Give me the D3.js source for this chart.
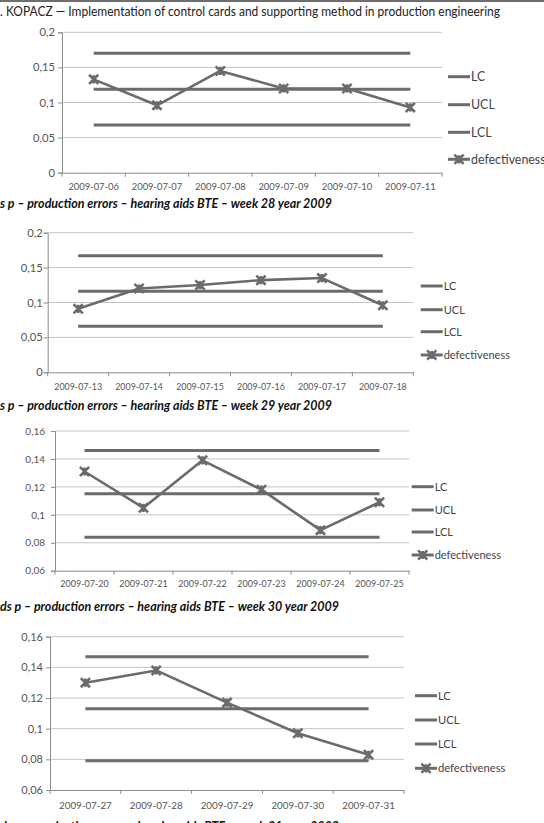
<!DOCTYPE html>
<html>
<head>
<meta charset="utf-8">
<script src="https://cdn.jsdelivr.net/npm/d3@7"></script>
<style>
html,body{margin:0;padding:0;background:#fff;}
svg{display:block;}
</style>
</head>
<body>
<svg id="c" width="544" height="823"></svg>
<script>
// ---------- DATA ----------
const headerText = ". KOPACZ — Implementation of control cards and supporting method in production engineering";
const seriesNames = ["LC", "UCL", "LCL", "defectiveness"];

const dates28 = ["2009-07-06","2009-07-07","2009-07-08","2009-07-09","2009-07-10","2009-07-11"];
const p28 = [0.133, 0.096, 0.145, 0.120, 0.120, 0.093];
const limits28 = {lc: 0.119, ucl: 0.170, lcl: 0.068};
const yTicks28 = [0, 0.05, 0.1, 0.15, 0.2];
const yTickLabels28 = ["0", "0,05", "0,1", "0,15", "0,2"];
const caption28 = "s p – production errors – hearing aids BTE – week 28 year 2009";

const dates29 = ["2009-07-13","2009-07-14","2009-07-15","2009-07-16","2009-07-17","2009-07-18"];
const p29 = [0.091, 0.120, 0.125, 0.132, 0.135, 0.096];
const limits29 = {lc: 0.116, ucl: 0.167, lcl: 0.066};
const yTicks29 = [0, 0.05, 0.1, 0.15, 0.2];
const yTickLabels29 = ["0", "0,05", "0,1", "0,15", "0,2"];
const caption29 = "s p – production errors – hearing aids BTE – week 29 year 2009";

const dates30 = ["2009-07-20","2009-07-21","2009-07-22","2009-07-23","2009-07-24","2009-07-25"];
const p30 = [0.131, 0.105, 0.139, 0.118, 0.089, 0.109];
const limits30 = {lc: 0.115, ucl: 0.146, lcl: 0.084};
const yTicks30 = [0.06, 0.08, 0.1, 0.12, 0.14, 0.16];
const yTickLabels30 = ["0,06", "0,08", "0,1", "0,12", "0,14", "0,16"];
const caption30 = "ds p – production errors – hearing aids BTE – week 30 year 2009";

const dates31 = ["2009-07-27","2009-07-28","2009-07-29","2009-07-30","2009-07-31"];
const p31 = [0.130, 0.138, 0.117, 0.097, 0.083];
const limits31 = {lc: 0.113, ucl: 0.147, lcl: 0.079};
const yTicks31 = [0.06, 0.08, 0.1, 0.12, 0.14, 0.16];
const yTickLabels31 = ["0,06", "0,08", "0,1", "0,12", "0,14", "0,16"];
const caption31 = "ds p – production errors – hearing aids BTE – week 31 year 2009";

// ---------- LAYOUT / STYLE ----------
const FONT = "Lato, 'Open Sans', sans-serif";
const LINE = "#6b6b6b";
const GRID = "#c4c4c4";
const AXIS = "#8c8c8c";
const TICKTXT = "#555";

const charts = [
  {cats: dates28, p: p28, lim: limits28, ticks: yTicks28, tickLabels: yTickLabels28, caption: caption28,
   top: 32.3, bottom: 172.7, left: 62, right: 442, xLabY: 187, legX: 448, legY: [76.7, 104.7, 132.3, 159.3],
   capY: 207.5, capW: 332, legFont: 12.4, yFont: 11.2, xFont: 9.4, yGap: 7},
  {cats: dates29, p: p29, lim: limits29, ticks: yTicks29, tickLabels: yTickLabels29, caption: caption29,
   top: 232.7, bottom: 372.3, left: 47.7, right: 413.3, xLabY: 387.3, legX: 420.7, legY: [286, 309.7, 331.7, 355],
   capY: 410, capW: 332, legFont: 11, yFont: 11.2, xFont: 8.9, yGap: 5},
  {cats: dates30, p: p30, lim: limits30, ticks: yTicks30, tickLabels: yTickLabels30, caption: caption30,
   top: 431, bottom: 570.7, left: 55, right: 409, xLabY: 584.3, legX: 411.7, legY: [486.7, 510, 532, 555],
   capY: 610.5, capW: 339, legFont: 11, yFont: 10, xFont: 9, yGap: 10},
  {cats: dates31, p: p31, lim: limits31, ticks: yTicks31, tickLabels: yTickLabels31, caption: caption31,
   top: 636.7, bottom: 790, left: 50, right: 404, xLabY: 806, legX: 415, legY: [695.7, 720, 744, 768.3],
   capY: 830.5, capW: 339, legFont: 11.2, yFont: 11, xFont: 9.8, yGap: 7}
];

const svg = d3.select("#c");
svg.append("rect").attr("width", 544).attr("height", 823).attr("fill", "#fff");

// header rule + header text
svg.append("line").attr("x1", 0).attr("x2", 544).attr("y1", 1).attr("y2", 1)
  .attr("stroke", "#6e6e6e").attr("stroke-width", 2);
svg.append("text").attr("x", 0).attr("y", 15.5)
  .attr("font-family", FONT).attr("font-size", 13).attr("fill", "#222")
  .attr("textLength", 500).attr("lengthAdjust", "spacingAndGlyphs")
  .text(headerText);

function star(g, x, y) {
  const s = 4.6;
  g.append("path")
    .attr("d", `M${x - s},${y - s}L${x + s},${y + s}M${x - s},${y + s}L${x + s},${y - s}M${x},${y - s + 0.5}L${x},${y + s - 0.5}`)
    .attr("stroke", LINE).attr("stroke-width", 2.6).attr("fill", "none");
}

charts.forEach(c => {
  const g = svg.append("g");
  const y = d3.scaleLinear().domain([c.ticks[0], c.ticks[c.ticks.length - 1]]).range([c.bottom, c.top]);
  const x = d3.scaleBand().domain(c.cats).range([c.left, c.right]);
  const cx = d => x(d) + x.bandwidth() / 2;

  // gridlines
  g.selectAll(".grid").data(c.ticks.slice(1)).enter().append("line")
    .attr("x1", c.left).attr("x2", c.right)
    .attr("y1", d => y(d)).attr("y2", d => y(d))
    .attr("stroke", GRID).attr("stroke-width", 1);

  // y axis
  const yAxis = d3.axisLeft(y).tickValues(c.ticks).tickSize(4)
    .tickFormat((d, i) => c.tickLabels[i]);
  const ya = g.append("g").attr("transform", `translate(${c.left},0)`).call(yAxis);
  ya.select(".domain").attr("stroke", AXIS);
  ya.selectAll(".tick line").attr("stroke", AXIS);
  ya.selectAll(".tick text").attr("font-family", FONT).attr("font-size", c.yFont).attr("fill", TICKTXT).attr("x", -c.yGap);

  // x axis
  const xa = g.append("g").attr("transform", `translate(0,${c.bottom})`)
    .call(d3.axisBottom(x).tickSize(0).tickSizeOuter(0));
  xa.select(".domain").attr("stroke", AXIS);
  xa.selectAll(".tick text").attr("font-family", FONT).attr("font-size", c.xFont).attr("fill", TICKTXT)
    .attr("y", c.xLabY - c.bottom).attr("dy", "0.35em");
  // boundary ticks
  const bounds = c.cats.map(d => x(d)).concat([c.right]);
  g.selectAll(".bt").data(bounds).enter().append("line")
    .attr("x1", d => d).attr("x2", d => d)
    .attr("y1", c.bottom).attr("y2", c.bottom + 4)
    .attr("stroke", AXIS);

  // control lines
  const x0 = cx(c.cats[0]), x1 = cx(c.cats[c.cats.length - 1]);
  [c.lim.ucl, c.lim.lc, c.lim.lcl].forEach(v => {
    g.append("line").attr("x1", x0).attr("x2", x1).attr("y1", y(v)).attr("y2", y(v))
      .attr("stroke", LINE).attr("stroke-width", 3);
  });

  // defectiveness line
  const line = d3.line().x((d, i) => cx(c.cats[i])).y(d => y(d));
  g.append("path").datum(c.p).attr("d", line)
    .attr("fill", "none").attr("stroke", LINE).attr("stroke-width", 2.6).attr("stroke-linejoin", "round");
  c.p.forEach((v, i) => star(g, cx(c.cats[i]), y(v)));

  // legend
  seriesNames.forEach((name, i) => {
    const ly = c.legY[i];
    g.append("line").attr("x1", c.legX).attr("x2", c.legX + 22).attr("y1", ly).attr("y2", ly)
      .attr("stroke", LINE).attr("stroke-width", 3);
    if (name === "defectiveness") star(g, c.legX + 11, ly);
    g.append("text").attr("x", c.legX + 23).attr("y", ly).attr("dy", "0.35em")
      .attr("font-family", FONT).attr("font-size", c.legFont).attr("fill", "#444").text(name);
  });

  // caption
  svg.append("text").attr("x", 0).attr("y", c.capY)
    .attr("font-family", FONT).attr("font-size", 13).attr("font-weight", "bold").attr("font-style", "italic")
    .attr("fill", "#111")
    .attr("textLength", c.capW).attr("lengthAdjust", "spacingAndGlyphs")
    .text(c.caption);
});
</script>
</body>
</html>
